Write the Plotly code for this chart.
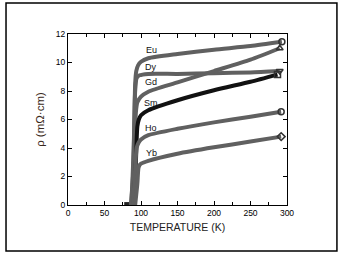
import plotly.graph_objects as go

# Resistivity (mOhm cm) vs temperature (K)
eu_T = [86, 89, 91, 92, 93.5, 96, 100, 110, 150, 200, 250, 293]
eu_r = [0, 2, 6, 8.5, 9.4, 9.8, 10.05, 10.3, 10.6, 10.9, 11.15, 11.45]
dy_T = [87, 90, 92, 94, 98, 110, 150, 200, 250, 290]
dy_r = [0, 4, 8, 8.9, 9.1, 9.2, 9.2, 9.25, 9.3, 9.4]
gd_T = [88, 91, 93, 95, 100, 110, 150, 200, 250, 290]
gd_r = [0, 4, 6.5, 7.2, 7.6, 7.95, 8.6, 9.4, 10.2, 11.0]
sm_T = [90, 93, 95, 97, 100, 110, 150, 200, 250, 287]
sm_r = [0, 3, 5.5, 6.0, 6.3, 6.65, 7.35, 8.05, 8.65, 9.15]
ho_T = [89, 92, 94, 97, 100, 110, 150, 200, 250, 292]
ho_r = [0, 2.5, 4.0, 4.4, 4.6, 4.9, 5.35, 5.8, 6.2, 6.55]
yb_T = [92, 95, 96.5, 98, 100, 110, 150, 200, 250, 292]
yb_r = [0, 1.5, 2.6, 2.8, 2.9, 3.1, 3.6, 4.05, 4.45, 4.8]
base_T = [77, 80, 83, 86, 88]
base_r = [0.1, 0.1, 0.1, 0.1, 0.1]

series = [
    ("Eu", eu_T, eu_r, "circle-open", "#606060"),
    ("Dy", dy_T, dy_r, "triangle-down-open", "#606060"),
    ("Gd", gd_T, gd_r, "triangle-up-open", "#606060"),
    ("Sm", sm_T, sm_r, "square-open", "#111111"),
    ("Ho", ho_T, ho_r, "circle-open", "#606060"),
    ("Yb", yb_T, yb_r, "diamond-open", "#606060"),
]
label_T = [114, 114, 114, 114, 114, 114]
label_r = [10.9, 9.7, 8.6, 7.15, 5.4, 3.65]

fig = go.Figure()
fig.add_trace(go.Scatter(x=base_T, y=base_r, mode="lines", line=dict(color="#222", width=3),
                         showlegend=False, hoverinfo="skip"))
for name, T, r, sym, col in series:
    fig.add_trace(go.Scatter(x=T, y=r, mode="lines", line=dict(color=col, width=4, shape="spline", smoothing=0.6),
                             name=name, showlegend=False))
    fig.add_trace(go.Scatter(x=[T[-1]], y=[r[-1]], mode="markers",
                             marker=dict(symbol=sym, size=6, color="#333", line=dict(width=1.5)),
                             showlegend=False, hoverinfo="skip"))
for (name, *_), lx, ly in zip(series, label_T, label_r):
    fig.add_annotation(x=lx, y=ly, text=name, showarrow=False,
                       font=dict(family="Liberation Sans", size=9, color="#111"))

axis_common = dict(ticks="inside", ticklen=4, tickwidth=1, tickcolor="black", showline=True,
                   linecolor="black", linewidth=1, mirror="ticks", showgrid=False, zeroline=False,
                   automargin=False,
                   tickfont=dict(family="Liberation Sans", size=8.5, color="black"))
fig.update_xaxes(range=[0, 300], dtick=50, title=dict(text="TEMPERATURE (K)", standoff=6,
                 font=dict(family="Liberation Sans", size=10.5, color="#222")),
                 minor=dict(dtick=25, ticks="inside", ticklen=3, tickcolor="black"), **axis_common)
fig.update_yaxes(range=[0, 12], dtick=2, title=dict(text="ρ (mΩ·cm)", standoff=8,
                 font=dict(family="Liberation Sans", size=11.5, color="#3a2a20")), **axis_common)

# outer frame
fig.add_shape(type="rect", xref="paper", yref="paper", x0=-0.283, x1=1.228, y0=-0.269, y1=1.181,
              line=dict(color="black", width=1.5), fillcolor="rgba(0,0,0,0)")

fig.update_layout(width=344, height=255, margin=dict(l=68, r=57, t=34, b=50),
                  paper_bgcolor="white", plot_bgcolor="white")
fig.write_html("out.html", config={"displayModeBar": False},
               post_script="document.body.style.margin='0';document.body.style.overflow='hidden';")
